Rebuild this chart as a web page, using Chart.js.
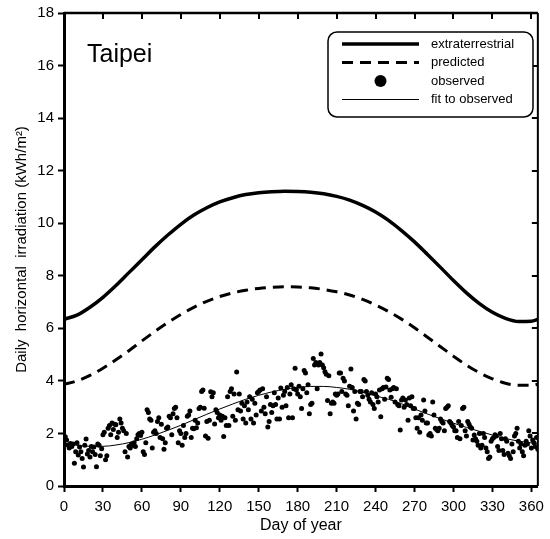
<!DOCTYPE html>
<html>
<head>
<meta charset="utf-8">
<script src="https://cdn.jsdelivr.net/npm/chart.js@4.4.1/dist/chart.umd.min.js"></script>
<style>
  html, body { margin: 0; padding: 0; background: #fff; }
</style>
</head>
<body>
<canvas id="chart" width="550" height="539"></canvas>
<script>
// days at which the smooth curves are sampled
const curveDays = [0, 10, 20, 30, 40, 50, 60, 70, 80, 90, 100, 110, 120, 130, 140, 150, 160, 170, 180,
  190, 200, 210, 220, 230, 240, 250, 260, 270, 280, 290, 300, 310, 320, 330, 340, 350, 360, 365];

const extraterrestrial = [6.35, 6.50, 6.80, 7.18, 7.63, 8.12, 8.61, 9.10, 9.55, 9.96, 10.31, 10.59, 10.81,
  10.97, 11.09, 11.16, 11.20, 11.22, 11.21, 11.18, 11.12, 11.02, 10.88, 10.68, 10.43, 10.11, 9.72, 9.29,
  8.81, 8.32, 7.82, 7.35, 6.94, 6.61, 6.38, 6.26, 6.27, 6.34];

const predicted = [3.87, 4.00, 4.21, 4.48, 4.80, 5.15, 5.52, 5.88, 6.22, 6.53, 6.80, 7.03, 7.21, 7.35,
  7.45, 7.52, 7.56, 7.58, 7.57, 7.54, 7.48, 7.39, 7.27, 7.10, 6.89, 6.64, 6.35, 6.02, 5.66, 5.30, 4.94,
  4.60, 4.31, 4.08, 3.91, 3.83, 3.83, 3.87];

const fitObserved = [1.62, 1.55, 1.51, 1.51, 1.56, 1.65, 1.78, 1.94, 2.12, 2.31, 2.52, 2.73, 2.93, 3.12,
  3.30, 3.45, 3.58, 3.68, 3.75, 3.79, 3.79, 3.75, 3.68, 3.57, 3.43, 3.30, 3.13, 2.93, 2.74, 2.56, 2.39,
  2.23, 2.08, 1.94, 1.81, 1.71, 1.64, 1.62];

// one observation per day, day 1 .. 365
const observed = [
  1.87, 1.75, 1.56, 1.45, 1.62, 1.50, 1.60, 0.87, 1.30, 1.65,
  1.18, 1.48, 1.30, 1.05, 0.72, 1.55, 1.79, 1.22, 1.35, 1.10,
  1.50, 1.30, 1.48, 1.20, 0.73, 1.60, 1.55, 1.15, 1.42, 1.95,
  2.05, 1.00, 1.15, 2.20, 2.30, 1.95, 2.40, 2.15, 2.35, 2.33,
  1.85, 2.05, 2.55, 2.40, 2.20, 2.10, 1.30, 2.00, 1.10, 1.50,
  1.45, 1.60, 1.55, 1.65, 1.50, 1.80, 1.95, 2.00, 1.92, 2.05,
  1.30, 1.20, 1.65, 2.90, 2.80, 2.55, 2.50, 1.45, 2.05, 2.10,
  2.00, 2.45, 2.60, 1.85, 2.35, 1.80, 1.40, 1.65, 2.20, 2.25,
  2.65, 2.60, 1.95, 2.75, 2.95, 3.00, 2.60, 1.65, 2.10, 2.00,
  1.55, 2.30, 1.85, 2.00, 2.65, 2.70, 2.85, 1.85, 2.20, 2.18,
  2.50, 2.22, 2.40, 2.95, 3.00, 3.60, 3.65, 2.96, 1.90, 2.45,
  1.82, 2.50, 3.59, 3.40, 3.55, 2.36, 2.90, 2.80, 2.60, 2.70,
  2.50, 2.65, 1.88, 2.60, 2.30, 3.40, 2.30, 3.60, 3.70, 2.65,
  3.50, 2.50, 4.34, 2.90, 3.50, 2.85, 3.15, 2.55, 3.05, 2.40,
  3.20, 2.90, 3.40, 2.55, 3.30, 2.40, 3.15, 2.70, 3.55, 3.60,
  3.65, 2.85, 3.70, 3.00, 2.75, 3.40, 2.25, 2.45, 3.10, 2.80,
  3.05, 3.55, 3.10, 2.55, 3.35, 2.55, 3.73, 3.00, 3.45, 3.60,
  3.05, 3.75, 2.60, 3.50, 3.85, 2.60, 3.70, 4.48, 3.65, 3.50,
  3.80, 3.40, 2.95, 3.70, 4.40, 4.30, 3.55, 3.85, 2.75, 3.10,
  3.15, 4.85, 4.60, 4.70, 3.70, 4.60, 4.70, 5.02, 4.60, 4.50,
  4.35, 4.25, 3.25, 4.20, 2.75, 3.15, 3.20, 3.15, 3.50, 3.45,
  3.50, 4.30, 4.30, 3.60, 4.10, 4.00, 3.50, 3.45, 3.05, 3.80,
  4.45, 3.75, 2.85, 3.60, 2.55, 3.15, 3.10, 3.60, 3.60, 3.40,
  4.05, 4.00, 3.60, 3.45, 3.30, 3.20, 3.55, 3.10, 2.95, 3.50,
  3.40, 3.20, 3.65, 2.64, 3.70, 3.75, 3.30, 3.77, 4.10, 4.05,
  3.65, 3.38, 3.70, 3.75, 3.20, 3.70, 3.10, 3.05, 2.13, 3.27,
  3.35, 3.00, 3.27, 3.10, 2.50, 3.35, 3.05, 3.40, 2.95, 2.95,
  2.60, 2.20, 2.60, 2.05, 2.70, 2.50, 3.27, 2.85, 2.40, 2.40,
  1.94, 2.00, 1.90, 3.20, 2.70, 2.20, 2.15, 2.10, 2.20, 2.55,
  2.45, 2.40, 2.10, 2.95, 3.00, 3.05, 2.45, 2.40, 2.30, 2.25,
  2.10, 2.10, 1.85, 2.45, 1.80, 2.30, 2.95, 3.00, 2.10, 1.90,
  2.45, 2.35, 2.25, 2.20, 1.75, 1.94, 1.80, 1.70, 1.55, 2.00,
  1.45, 1.55, 2.00, 1.85, 1.45, 1.30, 1.05, 1.10, 1.70, 1.80,
  1.85, 1.95, 1.90, 1.50, 1.35, 2.00, 1.80, 1.35, 1.20, 1.80,
  1.70, 1.25, 1.15, 1.05, 1.60, 1.30, 1.90, 2.00, 2.20, 1.70,
  1.45, 1.60, 1.30, 1.15, 1.55, 1.70, 1.60, 2.10, 1.90, 1.45,
  1.75, 1.65, 1.50, 1.85, 1.40
];

const xTicks = [0, 30, 60, 90, 120, 150, 180, 210, 240, 270, 300, 330, 360];
const yTicks = [0, 2, 4, 6, 8, 10, 12, 14, 16, 18];
const legendLabels = ['extraterrestrial', 'predicted', 'observed', 'fit to observed'];
const siteName = 'Taipei';

const FONT = 'Arial, "Liberation Sans", Helvetica, sans-serif';

const toPoints = (xs, ys) => xs.map((x, i) => ({ x, y: ys[i] }));

// top/right frame with inward ticks, site name and boxed legend
const framePlugin = {
  id: 'frameAndLegend',
  afterDraw(chart) {
    const { ctx, chartArea: ca, scales } = chart;
    ctx.save();
    ctx.strokeStyle = '#000';
    ctx.lineWidth = 2.5;
    ctx.beginPath();
    ctx.moveTo(ca.left, ca.top);
    ctx.lineTo(ca.right, ca.top);
    ctx.stroke();
    ctx.lineWidth = 2;
    ctx.beginPath();
    ctx.moveTo(ca.right, ca.top);
    ctx.lineTo(ca.right, ca.bottom);
    ctx.stroke();

    ctx.lineWidth = 2;
    xTicks.forEach((v) => {
      const px = Math.round(scales.x.getPixelForValue(v));
      ctx.beginPath();
      ctx.moveTo(px, ca.top);
      ctx.lineTo(px, ca.top + 6);
      ctx.stroke();
    });
    yTicks.forEach((v) => {
      const py = Math.round(scales.y.getPixelForValue(v));
      ctx.beginPath();
      ctx.moveTo(ca.right, py);
      ctx.lineTo(ca.right - 6, py);
      ctx.stroke();
    });

    ctx.fillStyle = '#000';
    ctx.font = '25px ' + FONT;
    ctx.textAlign = 'left';
    ctx.textBaseline = 'alphabetic';
    ctx.fillText(siteName, ca.left + 23, ca.top + 49);

    // legend box
    const bx = ca.left + 264, by = ca.top + 19, bw = 205, bh = 85;
    ctx.lineWidth = 1.5;
    ctx.beginPath();
    ctx.roundRect(bx, by, bw, bh, 9);
    ctx.fillStyle = '#fff';
    ctx.fill();
    ctx.stroke();

    const rows = [by + 12, by + 30.5, by + 49, by + 67.5];
    const sx0 = bx + 14, sx1 = bx + 91;
    ctx.font = '13px ' + FONT;
    ctx.textBaseline = 'middle';
    legendLabels.forEach((label, i) => {
      const ds = chart.data.datasets[i];
      const y = rows[i];
      ctx.strokeStyle = '#000';
      if (ds.showLine === false) {
        ctx.beginPath();
        ctx.arc((sx0 + sx1) / 2, y, 6, 0, Math.PI * 2);
        ctx.fillStyle = '#000';
        ctx.fill();
      } else {
        ctx.lineWidth = ds.borderWidth;
        ctx.setLineDash(ds.borderDash || []);
        ctx.beginPath();
        ctx.moveTo(sx0, y);
        ctx.lineTo(sx1, y);
        ctx.stroke();
        ctx.setLineDash([]);
      }
      ctx.fillStyle = '#000';
      ctx.fillText(label, bx + 103, y);
    });
    ctx.restore();
  },
};

const ctx = document.getElementById('chart').getContext('2d');
new Chart(ctx, {
  type: 'line',
  data: {
    datasets: [
      {
        label: legendLabels[0],
        data: toPoints(curveDays, extraterrestrial),
        borderColor: '#000',
        borderWidth: 3.5,
        pointRadius: 0,
        cubicInterpolationMode: 'monotone',
        fill: false,
      },
      {
        label: legendLabels[1],
        data: toPoints(curveDays, predicted),
        borderColor: '#000',
        borderWidth: 3,
        borderDash: [11, 7],
        pointRadius: 0,
        cubicInterpolationMode: 'monotone',
        fill: false,
      },
      {
        label: legendLabels[2],
        data: observed.map((v, i) => ({ x: i + 1, y: v })),
        showLine: false,
        pointRadius: 2.5,
        pointBorderWidth: 0,
        pointBackgroundColor: '#000',
        borderColor: '#000',
      },
      {
        label: legendLabels[3],
        data: toPoints(curveDays, fitObserved),
        borderColor: '#000',
        borderWidth: 1,
        pointRadius: 0,
        cubicInterpolationMode: 'monotone',
        fill: false,
      },
    ],
  },
  options: {
    responsive: false,
    animation: false,
    devicePixelRatio: 1,
    layout: { padding: { top: 13, right: 9, left: 0, bottom: 0 } },
    plugins: {
      legend: { display: false },
      tooltip: { enabled: false },
    },
    scales: {
      x: {
        type: 'linear',
        min: 0,
        max: 365,
        afterBuildTicks: (s) => { s.ticks = xTicks.map((v) => ({ value: v })); },
        afterFit: (s) => { s.height = 53; },
        ticks: { color: '#000', font: { family: FONT, size: 15 }, padding: 6, maxRotation: 0 },
        grid: { drawOnChartArea: false, drawTicks: true, tickLength: 6, tickWidth: 2, tickColor: '#000' },
        border: { display: true, width: 3, color: '#000' },
        title: { display: true, text: 'Day of year', color: '#000', font: { family: FONT, size: 16 }, padding: { top: 1 } },
      },
      y: {
        min: 0,
        max: 18,
        afterBuildTicks: (s) => { s.ticks = yTicks.map((v) => ({ value: v })); },
        afterFit: (s) => { s.width = 64; },
        ticks: { color: '#000', font: { family: FONT, size: 15 }, padding: 4 },
        grid: { drawOnChartArea: false, drawTicks: true, tickLength: 6, tickWidth: 2, tickColor: '#000' },
        border: { display: true, width: 3, color: '#000' },
        title: { display: true, text: 'Daily  horizontal  irradiation (kWh/m²)', color: '#000', font: { family: FONT, size: 15 }, padding: { top: 13, bottom: 0 } },
      },
    },
  },
  plugins: [framePlugin],
});
</script>
</body>
</html>
